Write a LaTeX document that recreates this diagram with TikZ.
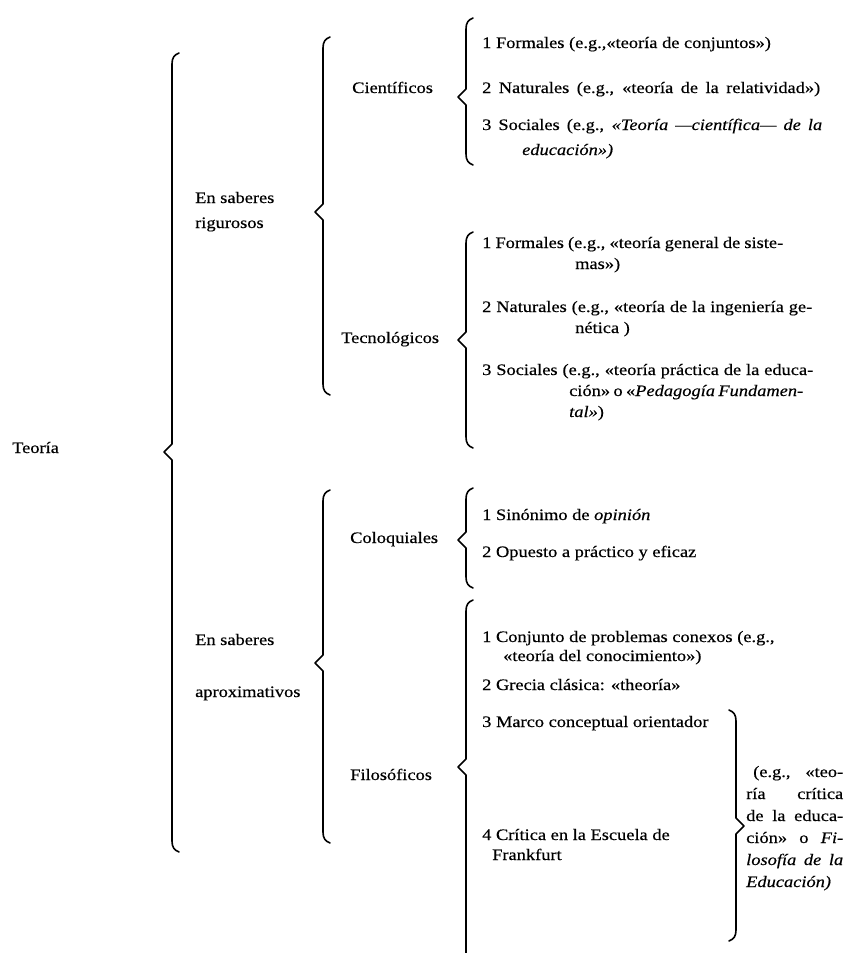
\documentclass[tikz,border=0pt]{standalone}
\usepackage{fontspec}
\setmainfont{Liberation Serif}[FakeStretch=1.15,FakeBold=0.4]
\tikzset{
  lbl/.style={anchor=base west, inner sep=0pt, font=\fontsize{16}{20}\selectfont},
  brc/.style={line width=1.6pt, line join=round, line cap=round}
}
\newcommand\LBr[4]{\draw[brc] (#1+7,#2) .. controls (#1+2,#2+2) and (#1,#2+5) .. (#1,#2+11) -- (#1,#3-8) -- (#1-8,#3) -- (#1,#3+8) -- (#1,#4-11) .. controls (#1,#4-5) and (#1+2,#4-2) .. (#1+7,#4);}
\newcommand\RBr[4]{\draw[brc] (#1-7,#2) .. controls (#1-2,#2+2) and (#1,#2+5) .. (#1,#2+11) -- (#1,#3-8) -- (#1+8,#3) -- (#1,#3+8) -- (#1,#4-11) .. controls (#1,#4-5) and (#1-2,#4-2) .. (#1-7,#4);}
\newcommand\jl[2]{\makebox[#1pt][s]{#2}}
\begin{document}
\begin{tikzpicture}[x=1pt,y=-1pt]
\useasboundingbox (0,0) rectangle (849,953);
% level 0
\node[lbl] (teoria) at (12,453) {Teoría};
\LBr{172}{53}{452}{852}
% level 1
\node[lbl] (rig1) at (195,203) {En saberes};
\node[lbl] (rig2) at (195,228) {rigurosos};
\LBr{323}{37}{212}{395}
\node[lbl] (apr1) at (195,645) {En saberes};
\node[lbl] (apr2) at (195,697) {aproximativos};
\LBr{323}{490}{663}{843}
% level 2
\node[lbl] (cien) at (352,93) {Científicos};
\node[lbl] (tecn) at (341,343) {Tecnológicos};
\node[lbl] (colo) at (350,543) {Coloquiales};
\node[lbl] (filo) at (350,780) {Filosóficos};
\LBr{466}{18}{97}{165}
\LBr{466}{232}{340}{448}
\LBr{466}{488}{540}{588}
\draw[brc] (473,600) .. controls (468,602) and (466,605) .. (466,611) -- (466,759) -- (458,767) -- (466,775) -- (466,953);
% Cientificos items
\node[lbl] (c1) at (482,48) {1 Formales (e.g.,«teoría de conjuntos»)};
\node[lbl] (c2) at (482,93) {\jl{338}{2 Naturales (e.g., «teoría de la relatividad»)}};
\node[lbl] (c3) at (482,130) {\jl{340}{3 Sociales (e.g., \textit{«Teoría —científica— de la}}};
\node[lbl] (c3b) at (522,155) {\textit{educación»)}};
% Tecnologicos items
\node[lbl] (t1) at (482,248) {\jl{301}{1 Formales (e.g., «teoría general de siste-}};
\node[lbl] (t1b) at (575,269) {mas»)};
\node[lbl] (t2) at (482,312) {\jl{330}{2 Naturales (e.g., «teoría de la ingeniería ge-}};
\node[lbl] (t2b) at (575,333) {nética )};
\node[lbl] (t3) at (482,375) {\jl{331}{3 Sociales (e.g., «teoría práctica de la educa-}};
\node[lbl] (t3b) at (569,396) {\jl{234}{ción» o «\textit{Pedagogía Fundamen-}}};
\node[lbl] (t3c) at (569,417) {\textit{tal»})};
% Coloquiales items
\node[lbl] (q1) at (482,520) {1 Sinónimo de \textit{opinión}};
\node[lbl] (q2) at (482,557) {2 Opuesto a práctico y eficaz};
% Filosoficos items
\node[lbl] (f1) at (482,642) {1 Conjunto de problemas conexos (e.g.,};
\node[lbl] (f1b) at (503,661) {«teoría del conocimiento»)};
\node[lbl] (f2) at (482,690) {2 Grecia clásica: «theoría»};
\node[lbl] (f3) at (482,727) {3 Marco conceptual orientador};
\node[lbl] (f4) at (482,840) {4 Crítica en la Escuela de};
\node[lbl] (f4b) at (492,860) {Frankfurt};
\RBr{736}{710}{826}{941}
% shared example
\node[lbl] (e1) at (753,777) {\jl{90}{(e.g., «teo-}};
\node[lbl] (e2) at (746,799) {\jl{97}{ría crítica}};
\node[lbl] (e3) at (746,821) {\jl{97}{de la educa-}};
\node[lbl] (e4) at (746,843) {\jl{97}{ción» o \textit{Fi-}}};
\node[lbl] (e5) at (746,865) {\jl{97}{\textit{losofía de la}}};
\node[lbl] (e6) at (746,887) {\textit{Educación)}};
\end{tikzpicture}
\end{document}
